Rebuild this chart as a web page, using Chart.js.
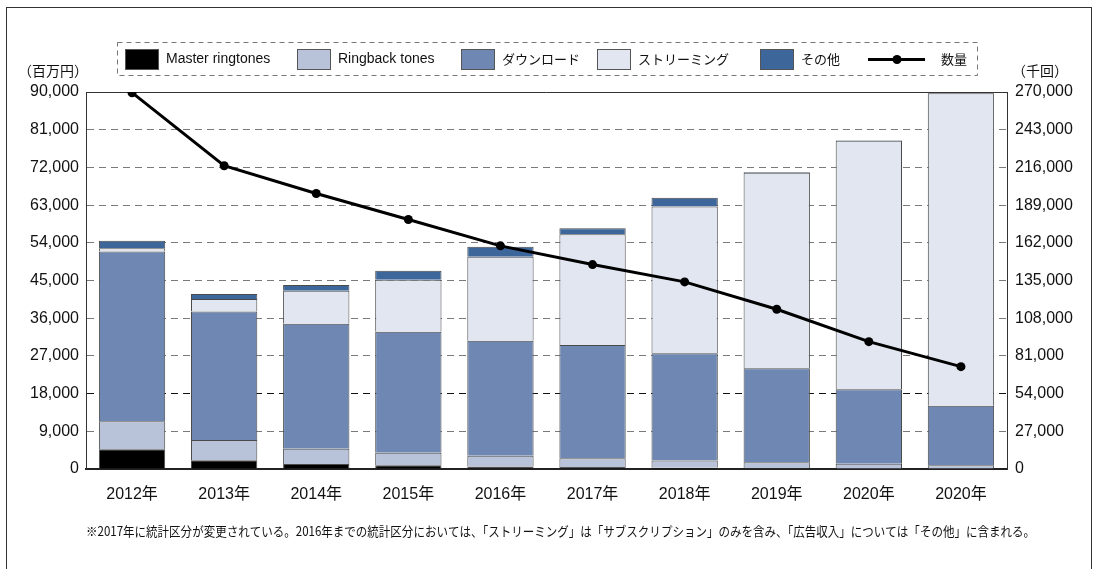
<!DOCTYPE html>
<html>
<head>
<meta charset="utf-8">
<script src="https://cdn.jsdelivr.net/npm/chart.js@4/dist/chart.umd.min.js"></script>
<style>
html,body{margin:0;padding:0;background:#fff;}
canvas{display:block;}
</style>
</head>
<body>
<canvas id="c" width="1094" height="569"></canvas>
<script>
// ---- data ----
const categories = ['2012年','2013年','2014年','2015年','2016年','2017年','2018年','2019年','2020年','2020年'];
// 百万円
const masterRingtones = [4700, 2100, 1200, 900, 600, 500, 300, 200, 100, 100];
const ringbackTones   = [6700, 4850, 3650, 2950, 2550, 2050, 1700, 1400, 1150, 800];
const downloads       = [40500, 30650, 29800, 28900, 27450, 27050, 25650, 22450, 17800, 14200];
const streaming       = [800, 3000, 7900, 12400, 20050, 26450, 35000, 46650, 59300, 74600];
const others          = [1800, 1200, 1400, 2150, 2400, 1450, 2100, 200, 150, 150];
// 千回
const volume          = [269500, 217200, 197300, 178700, 159800, 146400, 134000, 114400, 91200, 73300];

const leftTickStep = 9000, leftMax = 90000;
const rightTickStep = 27000, rightMax = 270000;
const leftUnit = '（百万円）';
const rightUnit = '（千回）';
const footnote = '※2017年に統計区分が変更されている。2016年までの統計区分においては、「ストリーミング」は「サブスクリプション」のみを含み、「広告収入」については「その他」に含まれる。';

const colors = {
  master: '#000000',
  ringback: '#b8c3da',
  download: '#6f88b3',
  streaming: '#e1e6f1',
  other: '#3d679b'
};

const LAT = "'Liberation Sans', 'Noto Sans CJK JP', sans-serif";
const JP = "'Noto Sans CJK JP', sans-serif";

function fmt(v){ return v.toLocaleString('en-US'); }

const barCommon = {type:'bar', borderColor:'#4a4a4a', borderWidth:1, order:1, yAxisID:'y',
  categoryPercentage:1.0, barPercentage:0.72};

const legendItems = [
  {label:'Master ringtones', color:colors.master, font:'14px '+LAT, x:125},
  {label:'Ringback tones', color:colors.ringback, font:'14px '+LAT, x:297},
  {label:'ダウンロード', color:colors.download, font:'13px '+JP, x:461},
  {label:'ストリーミング', color:colors.streaming, font:'13px '+JP, x:597},
  {label:'その他', color:colors.other, font:'13px '+JP, x:760}
];

const decor = {
  id:'decor',
  beforeDatasetsDraw(chart){
    const {ctx, chartArea:a} = chart;
    ctx.save();
    ctx.strokeStyle = '#333';
    ctx.lineWidth = 1;
    ctx.beginPath();
    ctx.moveTo(a.left, Math.round(a.top)+0.5);
    ctx.lineTo(a.right, Math.round(a.top)+0.5);
    ctx.stroke();
    ctx.restore();
  },
  afterDraw(chart){
    const {ctx} = chart;
    ctx.save();
    // outer frame
    ctx.strokeStyle = '#333';
    ctx.lineWidth = 1;
    ctx.strokeRect(6.5, 7.5, 1085, 600);
    // legend frame
    ctx.setLineDash([5,4]);
    ctx.strokeStyle = '#777';
    ctx.strokeRect(117.5, 42.5, 860, 33);
    ctx.setLineDash([]);
    // legend items
    ctx.textBaseline = 'middle';
    ctx.textAlign = 'left';
    legendItems.forEach(it => {
      ctx.fillStyle = it.color;
      ctx.fillRect(it.x, 49, 34, 21);
      ctx.strokeStyle = '#555';
      ctx.lineWidth = 1;
      ctx.strokeRect(it.x+0.5, 49.5, 33, 20);
      ctx.fillStyle = '#111';
      ctx.font = it.font;
      ctx.fillText(it.label, it.x + 41, 59.5);
    });
    // line legend
    ctx.strokeStyle = '#000';
    ctx.lineWidth = 3;
    ctx.beginPath();
    ctx.moveTo(868, 59.5); ctx.lineTo(925, 59.5);
    ctx.stroke();
    ctx.fillStyle = '#000';
    ctx.beginPath(); ctx.arc(897, 59.5, 4.5, 0, Math.PI*2); ctx.fill();
    ctx.fillStyle = '#111';
    ctx.font = '13px '+JP;
    ctx.fillText('数量', 941, 59.5);
    // axis units
    ctx.font = '14px '+JP;
    ctx.textAlign = 'left';
    ctx.fillText(leftUnit, 18, 71);
    ctx.fillText(rightUnit, 1012, 71);
    // footnote
    ctx.font = '13px '+JP;
    ctx.fillText(footnote, 86, 531, 949);
    ctx.restore();
  }
};

new Chart(document.getElementById('c'), {
  data: {
    labels: categories,
    datasets: [
      {type:'line', label:'数量', data: volume, yAxisID:'y2', order:0,
       borderColor:'#000', backgroundColor:'#000', borderWidth:3, tension:0,
       pointRadius:4.5, pointBackgroundColor:'#000', pointBorderWidth:0},
      Object.assign({}, barCommon, {label:'Master ringtones', data: masterRingtones, backgroundColor: colors.master}),
      Object.assign({}, barCommon, {label:'Ringback tones', data: ringbackTones, backgroundColor: colors.ringback}),
      Object.assign({}, barCommon, {label:'ダウンロード', data: downloads, backgroundColor: colors.download}),
      Object.assign({}, barCommon, {label:'ストリーミング', data: streaming, backgroundColor: colors.streaming}),
      Object.assign({}, barCommon, {label:'その他', data: others, backgroundColor: colors.other})
    ]
  },
  options: {
    responsive:false,
    animation:false,
    layout:{padding:{top:92, left:0, right:0, bottom:0}},
    plugins:{legend:{display:false}, tooltip:{enabled:false}},
    scales:{
      x:{
        stacked:true,
        grid:{display:false},
        border:{display:true, color:'#222', width:2},
        ticks:{color:'#111', font:{size:16, family:LAT}, padding:8, maxRotation:0, autoSkip:false},
        afterFit(s){ s.height = 100; }
      },
      y:{
        stacked:true,
        position:'left',
        min:0, max:leftMax,
        grid:{
          drawTicks:false,
          lineWidth:1,
          color(c){
            const v = c.tick ? c.tick.value : null;
            if (v === 0 || v === leftMax) return 'rgba(0,0,0,0)';
            return v === 18000 ? '#111' : '#7a7a7a';
          }
        },
        border:{display:true, color:'#333', width:1, dash:[7,5]},
        ticks:{stepSize:leftTickStep, color:'#111', font:{size:16, family:LAT}, padding:7, callback:(v)=>fmt(v)},
        afterFit(s){ s.width = 86; }
      },
      y2:{
        stacked:false,
        position:'right',
        min:0, max:rightMax,
        grid:{display:false, drawTicks:false},
        border:{display:true, color:'#333', width:1},
        ticks:{stepSize:rightTickStep, color:'#111', font:{size:16, family:LAT}, padding:8, callback:(v)=>fmt(v)},
        afterFit(s){ s.width = 87; }
      }
    }
  },
  plugins:[decor]
});
</script>
</body>
</html>
